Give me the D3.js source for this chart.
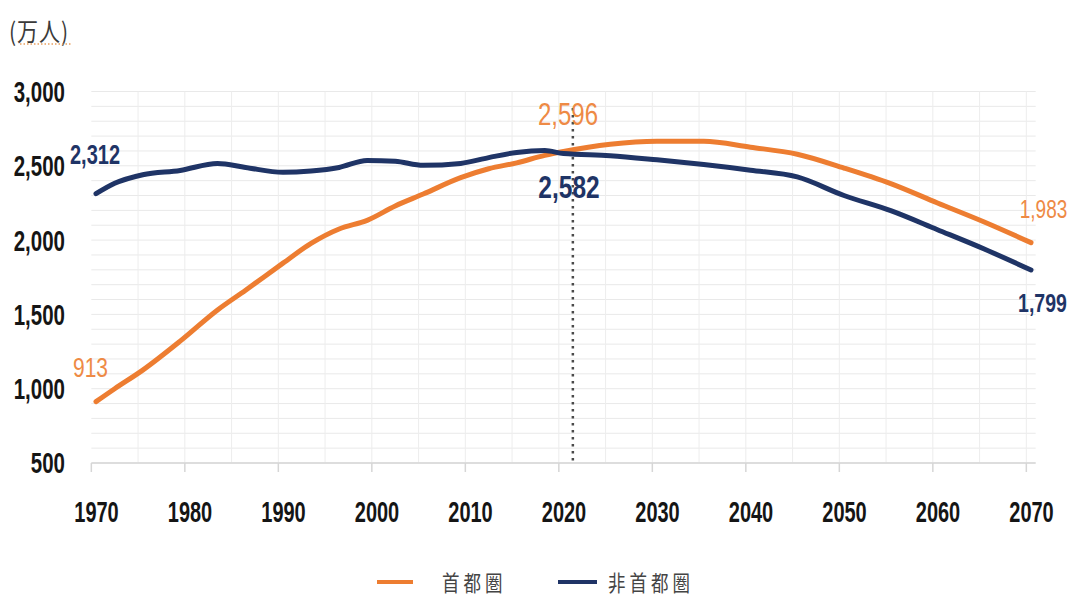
<!DOCTYPE html>
<html>
<head>
<meta charset="utf-8">
<script src="https://cdn.jsdelivr.net/npm/d3@7"></script>
<style>
  html, body { margin: 0; padding: 0; background: #fff; }
  svg { display: block; }
</style>
</head>
<body>
<svg id="chart" width="1075" height="604"></svg>
<script>
// ---- data ----
const years = [1970,1972,1975,1979,1983,1986,1990,1993,1996,1999,2002,2005,2009,2012,2015,2018,2020,2025,2030,2035,2040,2045,2050,2055,2060,2065,2070];
const capital = [913,1000,1125,1320,1530,1663,1845,1978,2075,2133,2230,2310,2420,2480,2520,2570,2596,2645,2665,2665,2625,2578,2485,2380,2250,2122,1983];
const nonCapital = [2312,2382,2440,2469,2516,2489,2456,2465,2489,2536,2530,2503,2516,2555,2590,2603,2582,2568,2540,2508,2470,2425,2300,2198,2070,1940,1799];
const seriesNames = ["首都圏", "非首都圏"];
const yTicks = [500,1000,1500,2000,2500,3000];
const xTicks = [1970,1980,1990,2000,2010,2020,2030,2040,2050,2060,2070];
const markerYear = 2021;
const unitLabel = "(万人)";

const colors = { capital: "#ED7D31", non: "#1F3466", capLabel: "#EE8A45" };

const svg = d3.select("#chart");
const x = d3.scaleLinear().domain([1970, 2070]).range([96, 1031]);
const y = d3.scaleLinear().domain([500, 3000]).range([463, 91.5]);

// scaled text helper
function label(x0, y0, txt, o) {
  const g = svg.append("g").attr("transform", `translate(${x0},${y0}) scale(1,${o.sy||1.4})`);
  g.append("text")
    .attr("text-anchor", o.anchor || "middle")
    .attr("dominant-baseline", "central")
    .attr("font-family", o.family || "'Liberation Sans', Arial, sans-serif")
    .attr("font-size", o.size)
    .attr("font-weight", o.weight || "bold")
    .attr("letter-spacing", o.ls || 0)
    .attr("fill", o.color || "#1a1a1a")
    .text(txt);
  return g;
}

// grid
const grid = svg.append("g");
grid.selectAll("line.h").data(d3.range(500, 3001, 100)).enter().append("line")
  .attr("x1", x(1969.5)).attr("x2", x(2070.5))
  .attr("y1", d => y(d)).attr("y2", d => y(d))
  .attr("stroke", "#E9E9E9").attr("stroke-width", 1);
grid.selectAll("line.v").data(d3.range(1975, 2071, 5)).enter().append("line")
  .attr("x1", d => x(d - 0.5)).attr("x2", d => x(d - 0.5))
  .attr("y1", y(3000)).attr("y2", y(500))
  .attr("stroke", "#EDEDED").attr("stroke-width", 1);

// x axis line and ticks
svg.append("line").attr("x1", x(1969.5)).attr("x2", x(2070.5))
  .attr("y1", y(500)).attr("y2", y(500)).attr("stroke", "#D6D6D6").attr("stroke-width", 1.5);
svg.selectAll("line.xt").data(xTicks).enter().append("line")
  .attr("x1", d => x(d - 0.5)).attr("x2", d => x(d - 0.5))
  .attr("y1", y(500)).attr("y2", y(500) + 9)
  .attr("stroke", "#D6D6D6").attr("stroke-width", 1.5);

// tick labels
yTicks.forEach(v => label(65, y(v), d3.format(",")(v), { size: 20.5, sy: 1.45, anchor: "end", color: "#151515" }));
xTicks.forEach(v => label(x(v) + 0.5, 511, String(v), { size: 20, sy: 1.5, color: "#151515" }));

// unit label
label(9, 30, unitLabel, { size: 21, sy: 1.2, anchor: "start", weight: "normal", color: "#3a3a3a",
  family: "'Noto Sans CJK JP', sans-serif", ls: 1 });
svg.append("line").attr("x1", 20).attr("x2", 72).attr("y1", 44).attr("y2", 44)
  .attr("stroke", "#E8A060").attr("stroke-width", 1.5).attr("stroke-dasharray", "1.5,2");

// dotted marker line
svg.append("line").attr("x1", x(markerYear)).attr("x2", x(markerYear))
  .attr("y1", 108).attr("y2", y(500))
  .attr("stroke", "#4a4a4a").attr("stroke-width", 2.5).attr("stroke-dasharray", "2.5,4.5");

// lines
const line = d3.line().x(d => x(d[0])).y(d => y(d[1])).curve(d3.curveMonotoneX);
const capData = years.map((yr, i) => [yr, capital[i]]);
const nonData = years.map((yr, i) => [yr, nonCapital[i]]);
svg.append("path").datum(capData).attr("d", line).attr("fill", "none")
  .attr("stroke", colors.capital).attr("stroke-width", 5).attr("stroke-linecap", "round").attr("stroke-linejoin", "round");
svg.append("path").datum(nonData).attr("d", line).attr("fill", "none")
  .attr("stroke", colors.non).attr("stroke-width", 5).attr("stroke-linecap", "round").attr("stroke-linejoin", "round");

// data labels
const fmt = d3.format(",");
const last = years.length - 1;
const i2020 = years.indexOf(2020);
label(95, 154, fmt(nonCapital[0]), { size: 20, sy: 1.4, color: colors.non });
label(90.5, 367, fmt(capital[0]), { size: 21, sy: 1.33, weight: "normal", color: colors.capLabel });
label(568, 114, fmt(capital[i2020]), { size: 24, sy: 1.28, weight: "normal", color: colors.capLabel });
label(569, 187, fmt(nonCapital[i2020]), { size: 24.5, sy: 1.3, color: colors.non });
label(1043.5, 209, fmt(capital[last]), { size: 19, sy: 1.35, weight: "normal", color: colors.capLabel });
label(1042.5, 303, fmt(nonCapital[last]), { size: 19.5, sy: 1.35, color: colors.non });

// legend
const legY = 582;
svg.append("line").attr("x1", 377).attr("x2", 413).attr("y1", legY).attr("y2", legY)
  .attr("stroke", colors.capital).attr("stroke-width", 4);
label(442, legY, seriesNames[0], { size: 17.5, sy: 1.25, anchor: "start", weight: "normal", color: "#444",
  family: "'Noto Sans CJK JP', sans-serif", ls: 4 });
svg.append("line").attr("x1", 558).attr("x2", 597).attr("y1", legY).attr("y2", legY)
  .attr("stroke", colors.non).attr("stroke-width", 4);
label(608, legY, seriesNames[1], { size: 17.5, sy: 1.25, anchor: "start", weight: "normal", color: "#444",
  family: "'Noto Sans CJK JP', sans-serif", ls: 4 });
</script>
</body>
</html>
